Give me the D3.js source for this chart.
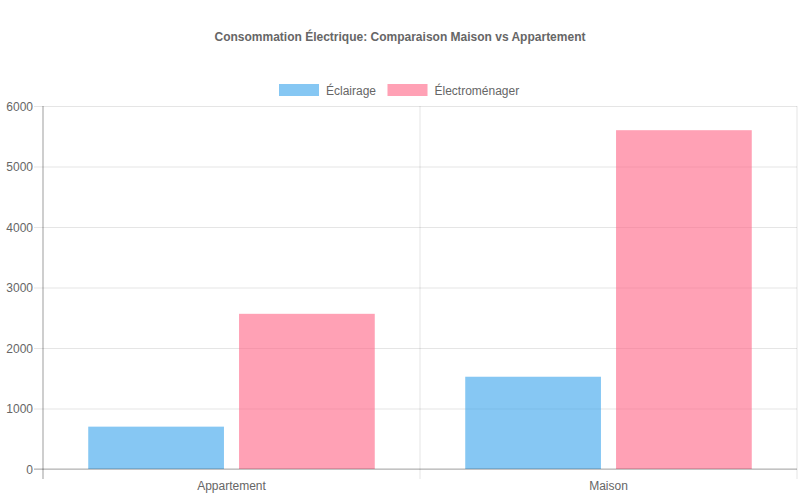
<!DOCTYPE html>
<html>
<head>
<meta charset="utf-8">
<script src="https://cdn.jsdelivr.net/npm/d3@7"></script>
<style>
  body { margin: 0; background: #fff; }
  svg { font-family: "Liberation Sans", Arial, sans-serif; }
</style>
</head>
<body>
<div id="chart"></div>
<script>
// Données
const categories = ["Appartement", "Maison"];
const seriesNames = ["Éclairage", "Électroménager"];
const eclairage = [700, 1525];
const electromenager = [2565, 5600];
const yTicks = [0, 1000, 2000, 3000, 4000, 5000, 6000];

const W = 800, H = 500;
const margin = {top: 106, right: 3, bottom: 31, left: 43},
      width = W - margin.left - margin.right,
      height = H - margin.top - margin.bottom;

const colors = ["rgba(54,162,235,0.6)", "rgba(255,99,132,0.6)"];

const svg = d3.select("#chart").append("svg")
    .attr("width", W).attr("height", H);

// Titre
svg.append("text")
    .attr("x", W / 2).attr("y", 41)
    .attr("text-anchor", "middle")
    .style("font-size", "12px").style("font-weight", "bold").style("fill", "#666")
    .text("Consommation Électrique: Comparaison Maison vs Appartement");

const g = svg.append("g").attr("transform", `translate(${margin.left},${margin.top})`);

// Échelles
const x0 = d3.scaleBand().domain(categories).range([0, width]);
const x1 = d3.scaleBand().domain(seriesNames)
    .range([x0.bandwidth() * 0.1, x0.bandwidth() * 0.9])
    .paddingInner(0.1).paddingOuter(0.05);
const y = d3.scaleLinear().domain([0, 6000]).range([height, 0]);

// Grille horizontale + petites graduations
g.append("g")
    .call(d3.axisLeft(y).tickValues(yTicks).tickFormat(d3.format("d")).tickSize(-width - 9).tickPadding(10))
    .attr("transform", "translate(-9,0)")
    .call(a => a.select(".domain").remove())
    .call(a => a.selectAll("line").attr("stroke", "rgba(0,0,0,0.1)").attr("transform", "translate(9,0)").attr("x2", -9).attr("x1", width))
    .call(a => a.selectAll("text").style("font-size", "12px").style("fill", "#666")
        .attr("x", 0).attr("dx", -1).attr("dy", "0.34em"));

// Grille verticale (limites de catégories)
const vlines = [0, ...categories.map(c => x0(c) + x0.bandwidth())];
g.selectAll(".vgrid").data(vlines).join("line")
    .attr("class", "vgrid")
    .attr("x1", d => d).attr("x2", d => d)
    .attr("y1", 0).attr("y2", height + 10)
    .attr("stroke", "rgba(0,0,0,0.1)");

// Barres
const rows = categories.map((c, i) => ({cat: c, values: [eclairage[i], electromenager[i]]}));
const groups = g.selectAll(".grp").data(rows).join("g")
    .attr("class", "grp")
    .attr("transform", d => `translate(${x0(d.cat)},0)`);
groups.selectAll("rect").data(d => d.values.map((v, j) => ({key: seriesNames[j], v, j})))
    .join("rect")
    .attr("x", d => x1(d.key))
    .attr("width", x1.bandwidth())
    .attr("y", d => y(d.v))
    .attr("height", d => height - y(d.v))
    .attr("fill", d => colors[d.j]);

// Axes
g.append("line").attr("x1", 0).attr("x2", 0).attr("y1", 0).attr("y2", height + 10)
    .attr("stroke", "rgba(0,0,0,0.3)");
g.append("line").attr("x1", -9).attr("x2", width).attr("y1", height).attr("y2", height)
    .attr("stroke", "rgba(0,0,0,0.3)");

// Libellés des catégories
g.append("g").attr("transform", `translate(0,${height})`)
    .call(d3.axisBottom(x0).tickSize(0).tickPadding(12))
    .call(a => a.select(".domain").remove())
    .call(a => a.selectAll("text").style("font-size", "12px").style("fill", "#666"));

// Légende
const legend = svg.append("g").attr("transform", "translate(279,84)");
const legendX = [0, 108.5];
seriesNames.forEach((name, i) => {
    const lg = legend.append("g").attr("transform", `translate(${legendX[i]},0)`);
    lg.append("rect").attr("width", 40).attr("height", 12).attr("fill", colors[i]);
    lg.append("text").attr("x", 47).attr("y", 10.5)
        .style("font-size", "12px").style("fill", "#666")
        .text(name);
});
</script>
</body>
</html>
